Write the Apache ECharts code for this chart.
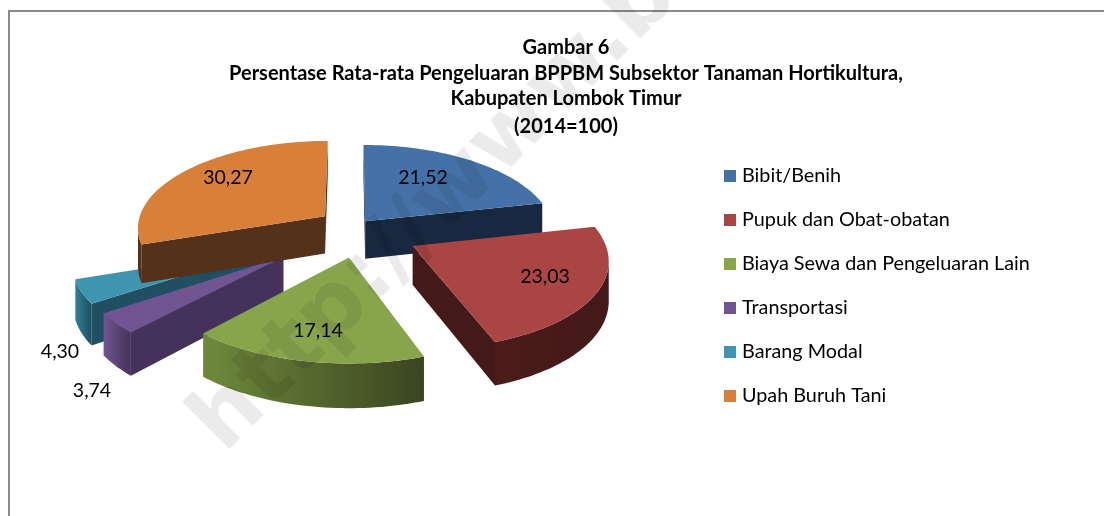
<!DOCTYPE html>
<html>
<head>
<meta charset="utf-8">
<style>
  html, body { margin: 0; padding: 0; background: #fff; }
  #chart { width: 1104px; height: 516px; }
</style>
<script src="https://cdn.jsdelivr.net/npm/echarts@6/dist/echarts.min.js"></script>
</head>
<body>
<div id="chart"></div>
<script>
const categories = ['Bibit/Benih', 'Pupuk dan Obat-obatan', 'Biaya Sewa dan Pengeluaran Lain', 'Transportasi', 'Barang Modal', 'Upah Buruh Tani']
const values = [21.52, 23.03, 17.14, 3.74, 4.30, 30.27]
const valueLabels = ['21,52', '23,03', '17,14', '3,74', '4,30', '30,27']
const titleLines = ['Gambar 6', 'Persentase Rata-rata Pengeluaran BPPBM Subsektor Tanaman Hortikultura,', 'Kabupaten Lombok Timur', '(2014=100)']

// tampilan
const topColors = ['#4472a8', '#a94543', '#88a54c', '#715592', '#3f95b0', '#d8803a']
const sideColors = [['#1a2c46', '#172840'], ['#4b1c19', '#43191a'], ['#6f8a3c', '#39451f'], ['#71558f', '#45325a'], ['#2f7f96', '#1f4f60'], ['#57331a', '#55311a']]
const explode = [0.13, 0.37, 0.31, 0.45, 0.46, 0.19]
const nudgeX = [0, 0, 0.055, 0, 0, 0.02]
const nudgeY = [0, 0, 0, 0, 0, -0.05]
const labelPos = [[423, 178], [545, 277], [318, 331], [92, 391], [60, 352], [228, 178]]
const drawOrder = [1, 5, 4, 3, 2, 6]  // z per slice, back to front

const cx = 350, cy = 230, rx = 189, ry = 87, depth = 38, perspX = 0.125, perspY = 0.115
const font = 'Lato, Carlito, sans-serif'

function project(x, y, z) {
  const sx = 1 / (1 - y * perspX)
  const sy = 1 / (1 - y * perspY)
  return [cx + x * rx * sx, cy + y * ry * sy + z * depth * sy]
}

const total = values.reduce((a, b) => a + b, 0)
const starts = []
values.reduce((acc, v, i) => { starts[i] = acc; return acc + v }, 0)

function sliceShapes(i) {
  const a0 = starts[i] / total * Math.PI * 2
  const a1 = (starts[i] + values[i]) / total * Math.PI * 2
  const mid = (a0 + a1) / 2
  const ox = Math.sin(mid) * explode[i] + nudgeX[i]
  const oy = -Math.cos(mid) * explode[i] + nudgeY[i]
  const arc = []
  const n = Math.max(6, Math.round((a1 - a0) * 40))
  for (let k = 0; k <= n; k++) {
    const a = a0 + (a1 - a0) * k / n
    arc.push([ox + Math.sin(a), oy - Math.cos(a)])
  }
  const top = p => project(p[0], p[1], 0)
  const bot = p => project(p[0], p[1], 1)
  const apex = [ox, oy]
  const children = []
  const wall = (a, b) => ({
    type: 'polygon',
    shape: { points: [top(a), top(b), bot(b), bot(a)] },
    style: { fill: sideColors[i][1] }
  })
  if (top(arc[0])[0] < top(apex)[0]) children.push(wall(apex, arc[0]))
  if (top(apex)[0] < top(arc[n])[0]) children.push(wall(arc[n], apex))
  // outer curved face, only the part turned to the viewer
  const front = arc.filter((p, k) => k < n ? top(arc[k + 1])[0] <= top(p)[0] : top(p)[0] <= top(arc[k - 1])[0])
  if (front.length > 1) {
    const pts = front.map(top).concat(front.slice().reverse().map(bot))
    children.push({
      type: 'polygon',
      shape: { points: pts },
      style: {
        fill: new echarts.graphic.LinearGradient(0, 0, 1, 0, [
          { offset: 0, color: sideColors[i][0] },
          { offset: 1, color: sideColors[i][1] }
        ])
      }
    })
  }
  children.push({
    type: 'polygon',
    shape: { points: [top(apex)].concat(arc.map(top)) },
    style: { fill: topColors[i] }
  })
  children.push({
    type: 'text',
    style: {
      x: labelPos[i][0], y: labelPos[i][1], text: valueLabels[i],
      font: '19.5px ' + font, fill: '#000', align: 'center', verticalAlign: 'middle'
    }
  })
  return { type: 'group', children: children }
}

const chart = echarts.init(document.getElementById('chart'), null, { renderer: 'canvas' })

chart.setOption({
  animation: false,
  backgroundColor: '#fff',
  legend: {
    data: categories,
    orient: 'vertical',
    left: 724,
    top: 166,
    padding: 0,
    itemWidth: 12,
    itemHeight: 12,
    itemGap: 24,
    icon: 'rect',
    textStyle: { fontFamily: font, fontSize: 19.8, color: '#000', padding: [0, 0, 0, 1], lineHeight: 20 }
  },
  graphic: [
    { type: 'polyline', z: 0, shape: { points: [[9, 516], [9, 11], [1104, 11]] }, style: { stroke: '#8a8a8a', lineWidth: 2, fill: null } }
  ].concat(titleLines.map((t, i) => ({
    type: 'text', z: 10, x: 566, y: [48, 74, 99, 127][i],
    style: { text: t, font: 'bold 20px ' + font, fill: '#000', align: 'center', verticalAlign: 'middle' }
  }))).concat([
    { type: 'text', z: 100, x: 208, y: 438, rotation: Math.PI / 4,
      style: { text: 'http://www.bi', font: 'bold 88px "DejaVu Sans"', fill: 'rgba(0,0,0,0.08)', align: 'left', verticalAlign: 'middle' } }
  ]),
  series: categories.map((name, i) => ({
    name: name,
    type: 'custom',
    coordinateSystem: 'none',
    z: drawOrder[i],
    color: topColors[i],
    itemStyle: { color: topColors[i] },
    data: [values[i]],
    renderItem: () => sliceShapes(i)
  }))
})
</script>
</body>
</html>
